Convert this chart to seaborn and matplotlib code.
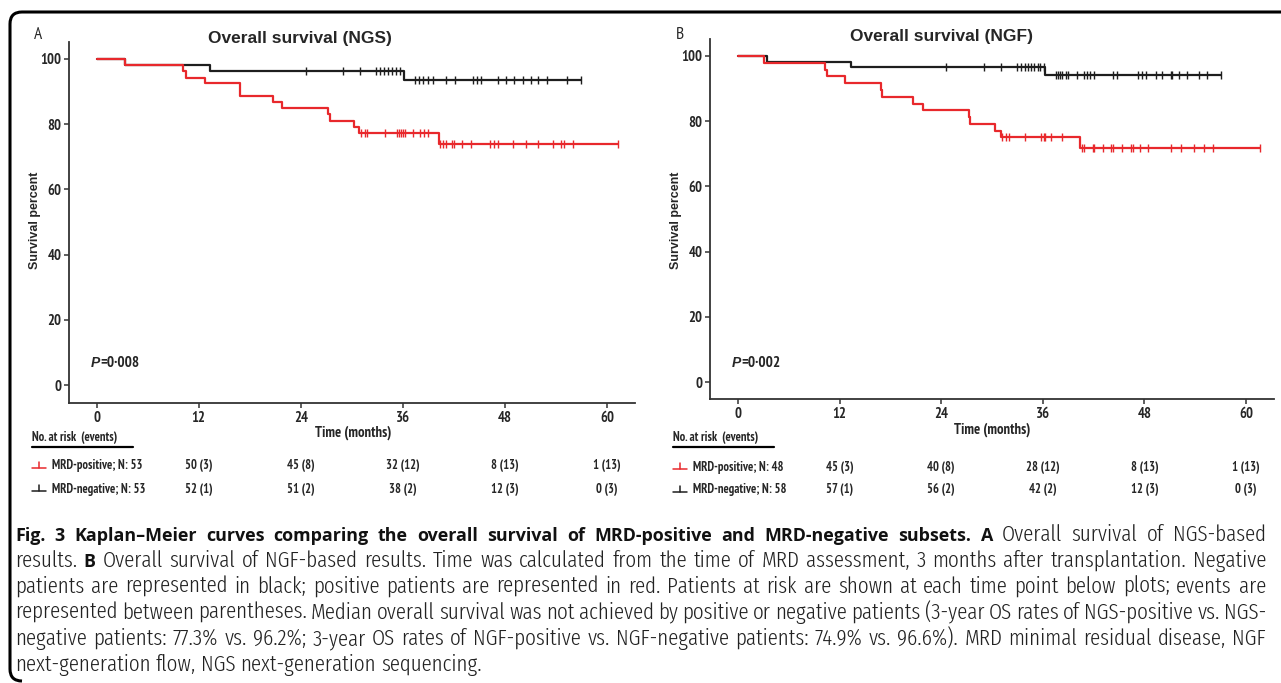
import numpy as np
import matplotlib
matplotlib.use("Agg")
import matplotlib.pyplot as plt
import seaborn as sns
from matplotlib import font_manager
from matplotlib.lines import Line2D
from matplotlib.path import Path
from matplotlib.patches import PathPatch
from matplotlib.transforms import blended_transform_factory

# ---- data (months, survival %) ----
ngs_pos_event_t = [3.3, 10.2, 10.5, 12.7, 16.8, 16.9, 20.7, 21.8, 27.2, 27.4, 30.3, 30.8, 40.3]
ngs_pos_surv = [98.1, 96.2, 94.3, 92.5, 90.6, 88.7, 86.8, 84.9, 83.0, 81.1, 79.2, 77.3, 73.9]
ngs_pos_censor_t = [31.1, 31.6, 31.8, 33.9, 35.3, 35.6, 35.8, 36.0, 36.2, 37.2, 38.0, 38.5, 38.9,
                    40.4, 40.7, 41.1, 41.8, 42.0, 42.9, 44.0, 46.3, 46.7, 47.2, 49.0, 50.5,
                    51.9, 53.6, 54.6, 55.0, 56.0, 61.3]

ngs_neg_event_t = [3.3, 13.3, 36.1]
ngs_neg_surv = [98.1, 96.2, 93.6]
ngs_neg_censor_t = [24.6, 29.0, 31.0, 32.8, 33.3, 33.8, 34.2, 34.7, 35.2, 35.7,
                    37.4, 37.9, 38.4, 38.9, 39.6, 41.1, 42.1, 44.2, 44.7, 45.2, 47.2,
                    48.1, 49.1, 50.1, 51.1, 51.9, 53.0, 55.3, 56.9]

ngf_pos_event_t = [3.1, 10.3, 10.5, 12.7, 16.9, 17.0, 20.7, 21.8, 27.3, 27.4, 30.4, 31.1, 40.4]
ngf_pos_surv = [97.9, 95.8, 93.8, 91.7, 89.6, 87.5, 85.4, 83.3, 81.2, 79.2, 77.1, 75.0, 71.8]
ngf_pos_censor_t = [31.2, 31.7, 32.0, 33.9, 35.8, 36.1, 36.3, 37.0, 38.3,
                    40.6, 40.9, 41.9, 42.1, 43.1, 44.1, 44.3, 45.3, 46.4, 46.7, 47.5,
                    48.4, 51.1, 52.3, 53.8, 55.0, 56.1, 61.6]

ngf_neg_event_t = [3.4, 13.3, 36.2]
ngf_neg_surv = [98.3, 96.6, 94.2]
ngf_neg_censor_t = [24.6, 29.1, 31.1, 32.9, 33.4, 33.9, 34.3, 34.6, 35.0, 35.4, 35.7, 36.1,
                    37.5, 37.8, 38.0, 38.3, 38.7, 39.0, 40.0, 40.9, 41.2, 41.6, 42.1, 44.3,
                    44.8, 47.2, 47.7, 48.2, 49.4, 50.1, 51.1, 51.2, 52.1, 53.0, 54.5, 55.4, 57.0]

risk_times = [12, 24, 36, 48, 60]
ngs_pos_risk = [50, 45, 32, 8, 1]
ngs_pos_events = [3, 8, 12, 13, 13]
ngs_neg_risk = [52, 51, 38, 12, 0]
ngs_neg_events = [1, 2, 2, 3, 3]
ngf_pos_risk = [45, 40, 28, 8, 1]
ngf_pos_events = [3, 8, 12, 13, 13]
ngf_neg_risk = [57, 56, 42, 12, 0]
ngf_neg_events = [1, 2, 2, 3, 3]

caption = [
    ([("Fig. 3 Kaplan\u2013Meier curves comparing the overall survival of MRD-positive and MRD-negative subsets. A", True),
      ("Overall survival of NGS-based", False)], True),
    ([("results.", False), ("B", True),
      ("Overall survival of NGF-based results. Time was calculated from the time of MRD assessment, 3 months after transplantation. Negative", False)], True),
    ([("patients are represented in black; positive patients are represented in red. Patients at risk are shown at each time point below plots; events are", False)], True),
    ([("represented between parentheses. Median overall survival was not achieved by positive or negative patients (3-year OS rates of NGS-positive vs. NGS-", False)], True),
    ([("negative patients: 77.3% vs. 96.2%; 3-year OS rates of NGF-positive vs. NGF-negative patients: 74.9% vs. 96.6%). MRD minimal residual disease, NGF", False)], True),
    ([("next-generation flow, NGS next-generation sequencing.", False)], False),
]

RED = "#e8282c"
BLACK = "#1e1e1e"
W, H = 1281, 683


def pick_font(candidates, weight, min_weight):
    # first family that really has a face of the wanted weight
    for name in candidates:
        try:
            path = font_manager.findfont(font_manager.FontProperties(family=name, weight=weight),
                                         fallback_to_default=False)
        except Exception:
            continue
        for f in font_manager.fontManager.ttflist:
            if f.fname == path and f.name == name:
                w = f.weight if isinstance(f.weight, int) else 400
                if min_weight <= w <= min_weight + 250:
                    return name
    return candidates[-1]


NARROW_B = pick_font(["Liberation Sans Narrow", "PT Sans Narrow", "Pragati Narrow",
                      "Roboto Condensed", "Fira Sans Condensed", "Asap Condensed",
                      "Liberation Sans"], "bold", 650)
NARROW_R = pick_font(["Liberation Sans Narrow", "PT Sans Narrow", "Pragati Narrow",
                      "Roboto Condensed", "Fira Sans Condensed", "Asap Condensed",
                      "Liberation Sans"], "normal", 350)
CAP_R = pick_font(["Open Sans Condensed", "Fira Sans Extra Condensed", "Fira Sans Condensed",
                   "Roboto Condensed", "Liberation Sans"], 300, 250)
CAP_B = pick_font(["Open Sans", "Liberation Sans"], "bold", 650)


def fx(x):
    return x / W


def fy(y):
    return 1 - y / H


def km_curve(ax, event_t, surv, censor_t, color):
    t = np.array([0.0] + list(event_t))
    s = np.array([100.0] + list(surv))
    end = max(censor_t)
    line_t = np.append(t, end)
    line_s = np.append(s, s[-1])
    sns.lineplot(x=line_t, y=line_s, ax=ax, color=color, lw=1.6,
                 drawstyle="steps-post", estimator=None, sort=False)
    idx = np.searchsorted(t, censor_t, side="right") - 1
    ax.plot(censor_t, s[idx], ls="none", marker="|", ms=5.5, mew=1.0, color=color)


def panel(box, xlim, ylim, label, label_xy, title, title_xy, ylabel_x, pval, pval_xy,
          curves, risk_rows, time_xy, risk_head_x):
    left, top, right, bottom = box
    ax = fig.add_axes([fx(left), fy(bottom), fx(right - left), (bottom - top) / H])
    for ev, sv, ce, col in curves:
        km_curve(ax, ev, sv, ce, col)
    ax.set_xlim(*xlim)
    ax.set_ylim(*ylim)
    ax.set_xticks([0, 12, 24, 36, 48, 60])
    ax.set_yticks([0, 20, 40, 60, 80, 100])
    sns.despine(ax=ax)
    for sp in ax.spines.values():
        sp.set_linewidth(1.3)
        sp.set_color("#333333")
    ax.tick_params(length=3.5, width=1.1, color="#333333", pad=2, labelsize=10.5)
    for lab in ax.get_xticklabels() + ax.get_yticklabels():
        lab.set_fontweight("bold")
        lab.set_fontfamily(NARROW_B)
    ax.set_xlabel("")
    ax.set_ylabel("")

    fig.text(fx(label_xy[0]), fy(label_xy[1]), label, fontsize=12.5, family=NARROW_R,
             ha="left", va="center")
    fig.text(fx(title_xy[0]), fy(title_xy[1]), title, fontsize=12.5, fontweight="bold",
             family="Liberation Sans", ha="center", va="center")
    fig.text(fx(ylabel_x), fy(220), "Survival percent", rotation=90, fontsize=9,
             fontweight="bold", family="Liberation Sans", ha="center", va="center")
    p = fig.text(fx(pval_xy[0]), fy(pval_xy[1]), "P", fontsize=10, fontweight="bold",
                 style="italic", family="Liberation Sans", ha="left", va="center")
    pw = p.get_window_extent(renderer).width
    fig.text(fx(pval_xy[0] + pw), fy(pval_xy[1]), "=0\u00b7" + pval, fontsize=11,
             fontweight="bold", family=NARROW_B, ha="left", va="center")
    fig.text(fx(time_xy[0]), fy(time_xy[1]), "Time (months)", fontsize=10.5,
             fontweight="bold", family=NARROW_B, ha="center", va="center")

    # risk table
    fig.text(fx(risk_head_x), fy(437), "No. at risk  (events)", fontsize=9,
             family=NARROW_B, fontweight="bold", ha="left", va="center")
    fig.add_artist(Line2D([fx(risk_head_x), fx(risk_head_x + 101)], [fy(447), fy(447)],
                          color="black", lw=1.6))
    trans = blended_transform_factory(ax.transData, fig.transFigure)
    for name, risk, events, col, ry in risk_rows:
        fig.add_artist(Line2D([fx(risk_head_x), fx(risk_head_x + 14)], [fy(ry + 2), fy(ry + 2)],
                              color=col, lw=1.1))
        fig.add_artist(Line2D([fx(risk_head_x + 7), fx(risk_head_x + 7)], [fy(ry + 2), fy(ry - 4)],
                              color=col, lw=1.1))
        fig.text(fx(risk_head_x + 20), fy(ry), name, fontsize=9, fontweight="bold",
                 family=NARROW_B, ha="left", va="center")
        for t, r, e in zip(risk_times, risk, events):
            fig.text(t, fy(ry), f"{r} ({e})", transform=trans, fontsize=9, fontweight="bold",
                     family=NARROW_B, ha="center", va="center")
    return ax


def make_words(segments, size_b, size_r, y_base):
    objs = []
    for text, bold in segments:
        for w in text.split(" "):
            if not w:
                continue
            if bold:
                t = fig.text(0, fy(y_base), w, fontsize=size_b, fontweight="bold",
                             family=CAP_B, va="baseline", ha="left", color="#111111")
            else:
                t = fig.text(0, fy(y_base), w, fontsize=size_r, fontweight=300,
                             family=CAP_R, va="baseline", ha="left", color="#222222")
            objs.append(t)
    return objs


def caption_line(y_base, segments, x0, x1, justify, size_b, size_r):
    objs = make_words(segments, size_b, size_r, y_base)
    widths = [o.get_window_extent(renderer).width for o in objs]
    if justify and len(objs) > 1:
        gap = (x1 - x0 - sum(widths)) / (len(objs) - 1)
    else:
        gap = size_r * 0.3
    x = x0
    for o, w in zip(objs, widths):
        o.set_x(fx(x))
        x += w + gap


def natural_width(segments, size_b, size_r):
    objs = make_words(segments, size_b, size_r, 0)
    total = sum(o.get_window_extent(renderer).width for o in objs)
    total += (len(objs) - 1) * size_r * 0.3
    for o in objs:
        o.remove()
    return total


sns.set_theme(style="ticks")
plt.rcParams["font.family"] = [NARROW_R, "DejaVu Sans"]

fig = plt.figure(figsize=(W / 100, H / 100), dpi=100)
renderer = fig.canvas.get_renderer()

panel(box=(69, 42, 635, 403), xlim=(-3.26, 63.3), ylim=(-5.5, 105.2),
      label="A", label_xy=(34, 35), title="Overall survival (NGS)", title_xy=(300, 38),
      ylabel_x=35, pval="008", pval_xy=(91, 363),
      curves=[(ngs_neg_event_t, ngs_neg_surv, ngs_neg_censor_t, BLACK),
              (ngs_pos_event_t, ngs_pos_surv, ngs_pos_censor_t, RED)],
      risk_rows=[("MRD-positive; N: 53", ngs_pos_risk, ngs_pos_events, RED, 466),
                 ("MRD-negative; N: 53", ngs_neg_risk, ngs_neg_events, BLACK, 489)],
      time_xy=(353, 433), risk_head_x=32)

panel(box=(710, 39, 1274, 399), xlim=(-3.3, 63.3), ylim=(-5.2, 105.2),
      label="B", label_xy=(676, 35), title="Overall survival (NGF)", title_xy=(941, 37),
      ylabel_x=676, pval="002", pval_xy=(732, 363),
      curves=[(ngf_neg_event_t, ngf_neg_surv, ngf_neg_censor_t, BLACK),
              (ngf_pos_event_t, ngf_pos_surv, ngf_pos_censor_t, RED)],
      risk_rows=[("MRD-positive; N: 48", ngf_pos_risk, ngf_pos_events, RED, 467),
                 ("MRD-negative; N: 58", ngf_neg_risk, ngf_neg_events, BLACK, 490)],
      time_xy=(992, 430), risk_head_x=673)

# caption: size the bold run to end near x=927 and the long plain line to fill the width
bold_w = natural_width([caption[0][0][0]], 12, 12)
size_b = 12 * 912 / bold_w
plain_w = natural_width(caption[2][0], 12, 12)
size_r = 12 * 1251 * 0.97 / plain_w
for i, (segs, just) in enumerate(caption):
    caption_line(541 + 26 * i, segs, 15, 1266, just, size_b, size_r)

# rounded frame (top and left)
verts = [(W, 12), (22, 12), (10, 12), (10, 24), (10, 669), (10, 681), (22, 681)]
codes = [Path.MOVETO, Path.LINETO, Path.CURVE3, Path.CURVE3, Path.LINETO, Path.CURVE3, Path.CURVE3]
frame = Path([(fx(x), fy(y)) for x, y in verts], codes)
fig.add_artist(PathPatch(frame, transform=fig.transFigure, fill=False, lw=2.2, edgecolor="black"))

fig.savefig("out.png", dpi=100)
